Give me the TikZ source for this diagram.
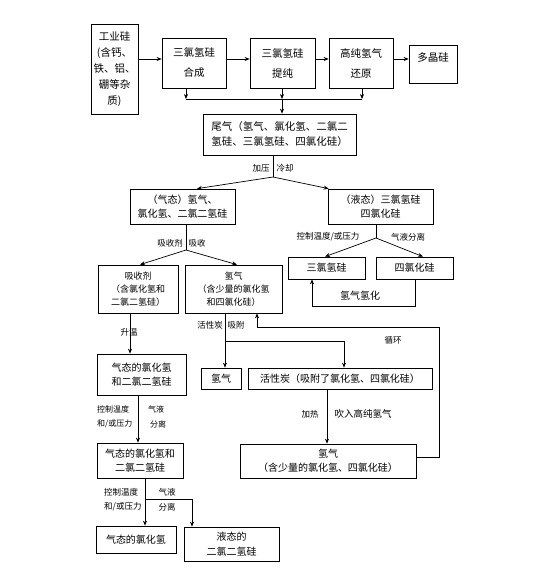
\documentclass[tikz,border=0pt]{standalone}
\usepackage{fontspec}
\setmainfont{Noto Sans CJK SC}
\usetikzlibrary{arrows.meta}
\tikzset{
  box/.style={draw, line width=0.7pt, inner sep=0pt, align=center, font=\fontsize{10}{14.5}\selectfont},
  tbox/.style={box, font=\fontsize{10.5}{20}\selectfont},
  sbox/.style={box, font=\fontsize{9}{13}\selectfont},
  lab/.style={inner sep=0pt, font=\fontsize{8.5}{10}\selectfont},
  slab/.style={inner sep=0pt, font=\fontsize{8}{10}\selectfont},
  ln/.style={line width=0.7pt},
  arr/.style={line width=0.7pt, -{Stealth[length=5pt,width=4pt]}}
}
\begin{document}
\begin{tikzpicture}[x=1pt,y=-1pt]
\useasboundingbox (0,0) rectangle (536,582);
% top row
\node[box, font=\fontsize{10.5}{16}\selectfont, minimum width=47, minimum height=90] (gy) at (114.5,69) {工业硅\\(含钙、\\铁、铝、\\硼等杂\\质)};
\node[tbox, minimum width=64, minimum height=50] (hc) at (194,63) {三氯氢硅\\合成};
\node[tbox, minimum width=65, minimum height=50] (tc) at (282.5,63) {三氯氢硅\\提纯};
\node[tbox, minimum width=64, minimum height=50] (hy) at (361,63) {高纯氢气\\还原};
\node[box, font=\fontsize{10.5}{14}\selectfont, minimum width=48, minimum height=38, text depth=13pt] (dj) at (433,64) {多晶硅};
\node[box, font=\fontsize{10.5}{15}\selectfont, minimum width=153, minimum height=41] (wq) at (279.5,134.5) {尾气（氢气、氯化氢、二氯二\\氢硅、三氯氢硅、四氯化硅）};
% second level
\node[box, minimum width=105, minimum height=35] (qt) at (182.5,206.5) {（气态）氢气、\\氯化氢、二氯二氢硅};
\node[box, minimum width=105, minimum height=35] (yt) at (380.5,206.5) {（液态）三氯氢硅\\四氯化硅};
% third level
\node[sbox, minimum width=80, minimum height=48] (xsj) at (138,289) {吸收剂\\（含氯化氢和\\二氯二氢硅）};
\node[sbox, minimum width=97, minimum height=48] (qq1) at (233.5,289) {氢气\\（含少量的氯化氢\\和四氯化硅）};
\node[box, minimum width=77, minimum height=22] (sq) at (326.5,268) {三氯氢硅};
\node[box, minimum width=77, minimum height=22] (sl) at (414.5,268) {四氯化硅};
% fourth level
\node[box, minimum width=89, minimum height=41] (qt2) at (141.5,374.5) {气态的氯化氢\\和二氯二氢硅};
\node[box, minimum width=40, minimum height=21] (qq2) at (221,378.5) {氢气};
\node[box, minimum width=184, minimum height=21] (hxt) at (340,378.5) {活性炭（吸附了氯化氢、四氯化硅）};
% fifth level
\node[box, minimum width=86, minimum height=35] (qt3) at (140,460.5) {气态的氯化氢和\\二氯二氢硅};
\node[box, minimum width=176, minimum height=34] (qq3) at (328,461) {氢气\\（含少量的氯化氢、四氯化硅）};
% bottom
\node[box, minimum width=80, minimum height=27] (qhq) at (136,539.5) {气态的氯化氢};
\node[box, minimum width=95, minimum height=34] (yt2) at (231.5,544) {液态的\\二氯二氢硅};

% junctions
\coordinate (a0) at ([yshift=10pt]gy.east);
\coordinate (a3) at ([yshift=4pt]hy.east);
\coordinate (c1) at (186,99);
\coordinate (c2) at (282,99);
\coordinate (c3) at (362,99);
\coordinate (j1) at (273,177);
\coordinate (j2) at (186,250);
\coordinate (j3) at (376,238);
\coordinate (j4) at (225,341);
\coordinate (j5) at (145,499);
\coordinate (cyc) at (439,327);

% top row arrows
\draw[arr] (a0) -- (hc.west |- a0);
\draw[arr] ([yshift=4pt]hc.east) -- ([yshift=4pt]tc.west);
\draw[arr] ([yshift=4pt]tc.east) -- ([yshift=4pt]hy.west);
\draw[arr] (a3) -- (dj.west |- a3);
% tail gas collection
\draw[arr] (hc.south -| c1) -- (c1);
\draw[arr] (hy.south -| c3) -- (c3);
\draw[ln] (c1) -- (c3);
\draw[arr] (tc.south -| c2) -- (c2);
\draw[arr] (c2) -- (wq.north -| c2);
% split of tail gas
\draw[ln] (wq.south -| j1) -- (j1);
\draw[arr] (j1) -- ([xshift=14.5pt]qt.north);
\draw[arr] (j1) -- ([xshift=1pt]yt.north west);
% absorption
\draw[ln] (qt.south -| j2) -- (j2);
\draw[arr] (j2) -- ([xshift=2pt]xsj.north);
\draw[arr] (j2) -- ([xshift=3.5pt]qq1.north);
% liquid separation
\draw[ln] (yt.south -| j3) -- (j3);
\draw[arr] (j3) -- ([xshift=-1.5pt]sq.north);
\draw[arr] (j3) -- ([xshift=8.5pt]sl.north);
\draw[arr] ([xshift=0.5pt]sl.south) -- ++(0,27) -| ([xshift=-14.5pt]sq.south);
% heating
\draw[arr] ([xshift=-8pt]xsj.south) -- ([xshift=-8pt]xsj.south |- qt2.north);
% adsorption
\draw[ln] (qq1.south -| j4) -- (j4);
\draw[arr] (j4) -- (qq2.north -| j4);
\draw[arr] (j4) -| ([xshift=4pt]hxt.north);
\draw[arr] ([xshift=-13pt]hxt.south) -- ([xshift=-13pt]hxt.south |- qq3.north);
% cycle
\draw[arr] ([yshift=4pt]qq3.east) -| (cyc) -| ([xshift=23.5pt]qq1.south);
% left column
\draw[arr] ([xshift=-3.5pt]qt2.south) -- ([xshift=-3.5pt]qt2.south |- qt3.north);
\draw[arr] ([xshift=5pt]qt3.south) -- ([xshift=5pt]qt3.south |- qhq.north);
\draw[arr] (j5) -| ([xshift=-39.5pt]yt2.north);

% labels
\node[lab] (l1) at (261,168) {加压};
\node[lab] (l2) at (285,168) {冷却};
\node[lab] (l3) at (170,243) {吸收剂};
\node[lab] (l4) at (197,243) {吸收};
\node[lab] (l5) at (328,237) {控制温度/或压力};
\node[lab] (l6) at (408,237) {气液分离};
\node[box, draw=none] (l7) at (360,296) {氢气氢化};
\node[lab] (l8) at (129,332) {升温};
\node[lab] (l9) at (210,325) {活性炭};
\node[lab] (l10) at (236,325) {吸附};
\node[lab] (l11) at (393,340) {循环};
\node[lab] (l12) at (310,414) {加热};
\node[lab, font=\fontsize{9.5}{10}\selectfont] (l13) at (363,414) {吹入高纯氢气};
\node[slab, anchor=west] (l14) at (97,409) {控制温度};
\node[slab, anchor=west] (l15) at (97,424) {和/或压力};
\node[slab] (l16) at (156,409) {气液};
\node[slab] (l17) at (158,424) {分离};
\node[lab, anchor=west] (l18) at (104,492) {控制温度};
\node[lab, anchor=west] (l19) at (104,507) {和/或压力};
\node[lab] (l20) at (167,492) {气液};
\node[lab] (l21) at (167,507) {分离};
\end{tikzpicture}
\end{document}
